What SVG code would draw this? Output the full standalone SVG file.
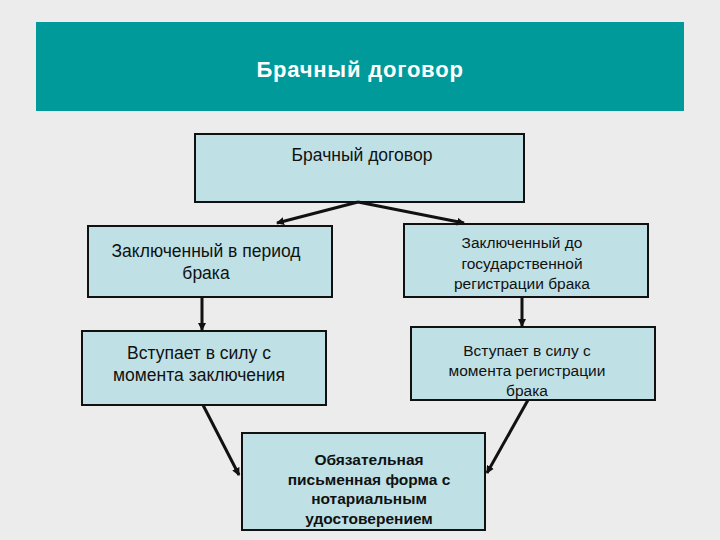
<svg xmlns="http://www.w3.org/2000/svg" width="720" height="540" viewBox="0 0 720 540">
<defs>
<marker id="ah" markerWidth="8" markerHeight="8" refX="7" refY="4" orient="auto" markerUnits="userSpaceOnUse"><path d="M0,0 L8,4 L0,8 Z" fill="#111"/></marker>
</defs>
<style>
.box{fill:#bfe1e6;stroke:#111;stroke-width:2}
.t{font-family:"Liberation Sans",Arial,sans-serif;font-size:17.5px;fill:#111;text-anchor:middle}
.s{font-family:"Liberation Sans",Arial,sans-serif;font-size:15.5px;fill:#111;text-anchor:middle}
.b{font-family:"Liberation Sans",Arial,sans-serif;font-size:15.5px;font-weight:bold;fill:#111;text-anchor:middle}
.c{stroke:#111;stroke-width:3;fill:none;marker-end:url(#ah)}
</style>
<rect width="720" height="540" fill="#ececec"/>
<g id="banner"><rect x="36" y="22" width="648" height="89" fill="#009a9a"/>
<text x="360" y="77" font-family="Liberation Sans,Arial,sans-serif" font-size="22" font-weight="bold" letter-spacing="0.8" fill="#fff" text-anchor="middle">Брачный договор</text></g>
<g id="n-top"><rect class="box" x="195" y="134" width="329" height="68"/><text class="t" x="362" y="161">Брачный договор</text></g>
<g id="n-l1"><rect class="box" x="88" y="226" width="244" height="71"/><text class="t" x="206" y="257">Заключенный в период</text><text class="t" x="206" y="279">брака</text></g>
<g id="n-r1"><rect class="box" x="404" y="224" width="244" height="73"/><text class="s" x="522" y="248">Заключенный до</text><text class="s" x="522" y="269">государственной</text><text class="s" x="522" y="289">регистрации брака</text></g>
<g id="n-l2"><rect class="box" x="82" y="331" width="244" height="74"/><text class="t" x="199" y="359">Вступает в силу с</text><text class="t" x="199" y="381">момента заключения</text></g>
<g id="n-r2"><rect class="box" x="411" y="327" width="244" height="73"/><text class="s" x="527" y="356">Вступает в силу с</text><text class="s" x="527" y="376">момента регистрации</text><text class="s" x="527" y="396">брака</text></g>
<g id="n-bot"><rect class="box" x="242" y="433" width="243" height="97"/><text class="b" x="369" y="465">Обязательная</text><text class="b" x="369" y="485">письменная форма с</text><text class="b" x="369" y="504">нотариальным</text><text class="b" x="369" y="524">удостоверением</text></g>
<g id="connectors">
<line class="c" x1="358" y1="202" x2="277" y2="223"/>
<line class="c" x1="358" y1="202" x2="464" y2="223"/>
<line class="c" x1="202" y1="297" x2="202" y2="330"/>
<line class="c" x1="522" y1="297" x2="522" y2="326"/>
<line class="c" x1="203" y1="405" x2="239" y2="475"/>
<line class="c" x1="528" y1="400" x2="487" y2="473"/>
</g>
</svg>
